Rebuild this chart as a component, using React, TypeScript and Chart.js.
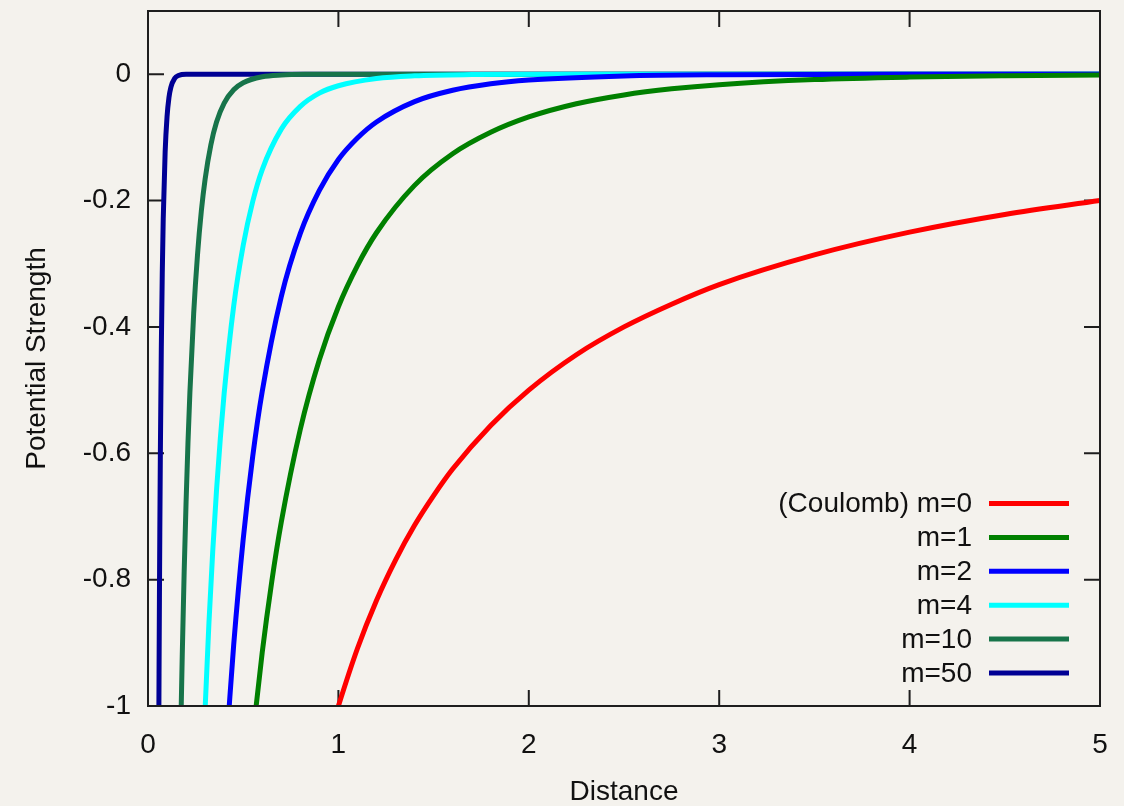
import React, { useEffect, useRef } from "react";
import { Chart, registerables } from "chart.js";

Chart.register(...registerables);

// ---- data ----
const SERIES_LABELS = ["(Coulomb) m=0", "m=1", "m=2", "m=4", "m=10", "m=50"];
const SERIES_COLORS = ["#ff0000", "#008000", "#0000ff", "#00ffff", "#17744a", "#000094"];

const X_TICKS = [0, 1, 2, 3, 4, 5];
const Y_TICKS = [0, -0.2, -0.4, -0.6, -0.8, -1];

const M0_X = [0.98, 1, 1.1, 1.2, 1.3, 1.4, 1.5, 1.6, 1.8, 2, 2.25, 2.5, 2.75, 3, 3.5, 4, 4.5, 5];
const M0_Y = [-1.02, -1, -0.909, -0.833, -0.769, -0.714, -0.667, -0.625, -0.556, -0.5, -0.444, -0.4, -0.364, -0.333, -0.286, -0.25, -0.222, -0.2];

const M1_X = [0.55, 0.6, 0.65, 0.7, 0.8, 0.9, 1.0, 1.1, 1.2, 1.4, 1.6, 1.8, 2.0, 2.25, 2.5, 2.75, 3.0, 3.5, 4.0, 4.5, 5.0];
const M1_Y = [-1.049, -0.915, -0.803, -0.709, -0.562, -0.452, -0.368, -0.303, -0.251, -0.176, -0.126, -0.092, -0.0677, -0.0468, -0.0328, -0.0232, -0.0166, -0.0086, -0.0046, -0.0025, -0.0013];

const M2_X = [0.42, 0.45, 0.5, 0.55, 0.6, 0.7, 0.8, 0.9, 1.0, 1.1, 1.2, 1.4, 1.6, 1.8, 2.0, 2.5, 3, 4, 5];
const M2_Y = [-1.028, -0.9035, -0.736, -0.605, -0.502, -0.352, -0.252, -0.184, -0.135, -0.101, -0.0756, -0.0434, -0.0255, -0.0152, -0.0092, -0.0027, -0.0008, -0.0001, 0];

const M4_X = [0.29, 0.3, 0.32, 0.34, 0.36, 0.38, 0.4, 0.45, 0.5, 0.55, 0.6, 0.7, 0.8, 0.9, 1.0, 1.2, 1.4, 1.7, 2.2, 5];
const M4_Y = [-1.081, -1.004, -0.869, -0.755, -0.658, -0.576, -0.505, -0.367, -0.271, -0.2015, -0.151, -0.087, -0.051, -0.030, -0.0183, -0.0069, -0.0026, -0.0007, -0.0001, 0];

const M10_X = [0.17, 0.175, 0.18, 0.19, 0.2, 0.21, 0.22, 0.24, 0.26, 0.28, 0.3, 0.33, 0.36, 0.4, 0.45, 0.5, 0.6, 0.7, 0.85, 1.0, 5];
const M10_Y = [-1.075, -0.993, -0.918, -0.787, -0.677, -0.583, -0.504, -0.378, -0.286, -0.217, -0.166, -0.112, -0.0758, -0.0458, -0.0247, -0.0135, -0.0041, -0.0013, -0.0002, 0, 0];

const M50_X = [0.056, 0.058, 0.06, 0.062, 0.065, 0.07, 0.075, 0.08, 0.09, 0.1, 0.11, 0.12, 0.14, 0.16, 0.2, 5];
const M50_Y = [-1.086, -0.949, -0.83, -0.726, -0.5965, -0.4315, -0.3136, -0.2289, -0.1234, -0.0674, -0.0372, -0.0207, -0.0065, -0.0021, -0.0002, 0];

const SERIES_X = [M0_X, M1_X, M2_X, M4_X, M10_X, M50_X];
const SERIES_Y = [M0_Y, M1_Y, M2_Y, M4_Y, M10_Y, M50_Y];

const BG = "#f4f2ed";
const INK = "#1e1e1e";
const FONT = "'Liberation Sans', Arial, sans-serif";
const FONT_SIZE = 28;

const framePlugin = {
  id: "gnuplotFrame",
  beforeDraw(chart: any) {
    const ctx = chart.ctx;
    ctx.save();
    ctx.fillStyle = BG;
    ctx.fillRect(0, 0, chart.width, chart.height);
    ctx.restore();
  },
  beforeDatasetsDraw(chart: any) {
    const { ctx, chartArea: a, scales } = chart;
    const len = 16;
    ctx.save();
    ctx.strokeStyle = INK;
    ctx.lineWidth = 2;
    ctx.beginPath();
    X_TICKS.forEach((v) => {
      const px = scales.x.getPixelForValue(v);
      ctx.moveTo(px, a.bottom);
      ctx.lineTo(px, a.bottom - len);
      ctx.moveTo(px, a.top);
      ctx.lineTo(px, a.top + len);
    });
    Y_TICKS.forEach((v) => {
      const py = scales.y.getPixelForValue(v);
      ctx.moveTo(a.left, py);
      ctx.lineTo(a.left + len, py);
      ctx.moveTo(a.right, py);
      ctx.lineTo(a.right - len, py);
    });
    ctx.stroke();
    ctx.restore();
  },
  afterDatasetsDraw(chart: any) {
    const { ctx, chartArea: a } = chart;
    ctx.save();
    ctx.strokeStyle = INK;
    ctx.lineWidth = 2;
    ctx.strokeRect(a.left, a.top, a.right - a.left, a.bottom - a.top);
    ctx.restore();
  },
  afterDraw(chart: any) {
    const { ctx, chartArea: a } = chart;
    const step = 33.9;
    const n = chart.data.datasets.length;
    ctx.save();
    ctx.font = `${FONT_SIZE}px ${FONT}`;
    ctx.textAlign = "right";
    ctx.textBaseline = "middle";
    chart.data.datasets.forEach((ds: any, i: number) => {
      const y = a.bottom - 33 - (n - 1 - i) * step;
      ctx.fillStyle = "#111";
      ctx.fillText(ds.label, a.right - 128, y + 1);
      ctx.strokeStyle = ds.borderColor;
      ctx.lineWidth = 5;
      ctx.lineCap = "butt";
      ctx.beginPath();
      ctx.moveTo(a.right - 111, y);
      ctx.lineTo(a.right - 31, y);
      ctx.stroke();
    });
    ctx.restore();
  },
};

export default function App() {
  const ref = useRef<HTMLCanvasElement | null>(null);

  useEffect(() => {
    document.body.style.margin = "0";
    document.body.style.background = BG;
    const canvas = ref.current;
    if (!canvas) return;
    Chart.defaults.font.family = FONT;
    Chart.defaults.font.size = FONT_SIZE;
    Chart.defaults.color = "#111";

    const chart = new Chart(canvas, {
      type: "line",
      data: {
        datasets: SERIES_LABELS.map((label, i) => ({
          label,
          data: SERIES_X[i].map((x, j) => ({ x, y: SERIES_Y[i][j] })),
          borderColor: SERIES_COLORS[i],
          backgroundColor: SERIES_COLORS[i],
          borderWidth: 5,
          pointRadius: 0,
          fill: false,
          cubicInterpolationMode: "monotone",
          clip: 0,
        })),
      },
      options: {
        animation: false,
        responsive: false,
        maintainAspectRatio: false,
        layout: { padding: { left: 0, right: 24, top: 11, bottom: 0 } },
        plugins: {
          legend: { display: false },
          tooltip: { enabled: false },
        },
        scales: {
          x: {
            type: "linear",
            min: 0,
            max: 5,
            grid: { display: false, drawTicks: false },
            border: { display: false },
            ticks: {
              stepSize: 1,
              padding: 22,
              color: "#111",
              font: { size: FONT_SIZE },
              callback: (v: any) => String(v),
            },
            title: {
              display: true,
              text: "Distance",
              color: "#111",
              font: { size: FONT_SIZE, lineHeight: 1 },
              padding: { top: 0, bottom: 0 },
            },
            afterFit: (s: any) => {
              s.height = 100;
              s.paddingLeft = 0;
              s.paddingRight = 0;
            },
          },
          y: {
            type: "linear",
            min: -1,
            max: 0.1,
            grid: { display: false, drawTicks: false },
            border: { display: false },
            ticks: {
              stepSize: 0.2,
              includeBounds: false,
              padding: 17,
              color: "#111",
              font: { size: FONT_SIZE },
              callback: (v: any) => String(Math.round(Number(v) * 10) / 10),
            },
            title: {
              display: true,
              text: "Potential Strength",
              color: "#111",
              font: { size: FONT_SIZE, lineHeight: 1 },
              padding: { top: 23, bottom: 0 },
            },
            afterFit: (s: any) => {
              s.width = 148;
              s.paddingTop = 0;
              s.paddingBottom = 0;
            },
          },
        },
      },
      plugins: [framePlugin],
    } as any);

    return () => chart.destroy();
  }, []);

  return (
    <div style={{ width: 1124, height: 806, position: "relative" }}>
      <canvas ref={ref} width={1124} height={806} style={{ display: "block" }} />
    </div>
  );
}
